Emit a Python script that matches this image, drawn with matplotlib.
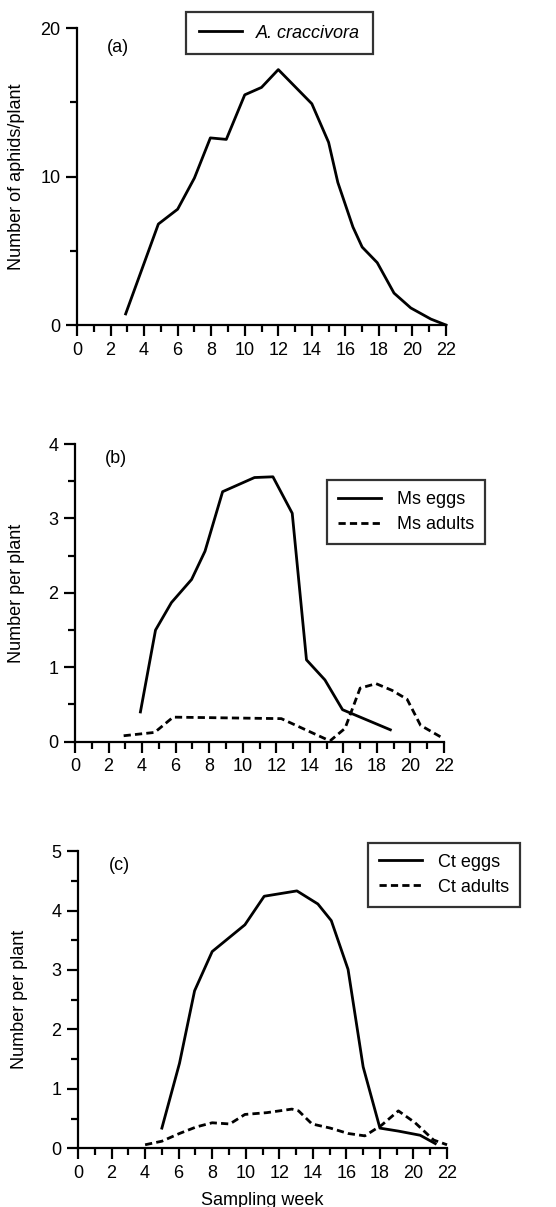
import matplotlib
matplotlib.use('Agg')
import matplotlib.pyplot as plt
from matplotlib.ticker import MultipleLocator

plt.rcParams['font.family'] = ['Liberation Sans', 'DejaVu Sans']
plt.rcParams['font.size'] = 13

# (a) A. craccivora
week_a = [2.9, 4.85, 6.0, 7.0, 7.95, 8.9, 10.0, 11.0, 12.0, 13.0, 14.0, 15.0,
          15.55, 16.45, 17.0, 17.9, 18.9, 19.9, 21.1, 22.0]
aphids = [0.75, 6.8, 7.8, 9.9, 12.6, 12.5, 15.5, 16.0, 17.2, 16.05, 14.9, 12.3,
          9.6, 6.6, 5.25, 4.2, 2.15, 1.15, 0.4, 0.0]

# (b) Ms
week_ms_eggs = [3.9, 4.8, 5.75, 6.95, 7.75, 8.8, 10.7, 11.8, 12.95, 13.8,
                14.9, 15.95, 18.8]
ms_eggs = [0.40, 1.50, 1.87, 2.18, 2.56, 3.36, 3.55, 3.56, 3.07, 1.10,
           0.83, 0.43, 0.16]
week_ms_adults = [2.9, 4.75, 5.85, 12.3, 15.2, 16.1, 17.0, 17.95, 18.9, 19.8,
                  20.6, 21.95]
ms_adults = [0.08, 0.125, 0.33, 0.31, 0.01, 0.18, 0.72, 0.78, 0.69, 0.57,
             0.22, 0.045]

# (c) Ct
week_ct_eggs = [5.0, 6.05, 6.95, 8.0, 9.95, 11.1, 13.05, 14.3, 15.1, 16.1,
                17.0, 18.0, 19.1, 20.4, 21.3]
ct_eggs = [0.34, 1.43, 2.65, 3.31, 3.76, 4.24, 4.33, 4.11, 3.83, 3.01,
           1.37, 0.34, 0.29, 0.22, 0.08]
week_ct_adults = [4.0, 5.0, 6.05, 7.05, 8.0, 9.05, 9.95, 11.25, 12.75, 13.15,
                  13.95, 15.05, 16.1, 17.1, 18.1, 19.1, 20.1, 21.2, 22.0]
ct_adults = [0.06, 0.12, 0.25, 0.36, 0.43, 0.41, 0.57, 0.60, 0.66, 0.63,
             0.41, 0.34, 0.25, 0.21, 0.39, 0.63, 0.43, 0.14, 0.06]

x_ticks = list(range(0, 23, 2))

fig = plt.figure(figsize=(5.56, 12.07), dpi=100)
ax_a = fig.add_axes([0.1385, 0.7307, 0.6637, 0.2461])
ax_b = fig.add_axes([0.1349, 0.3855, 0.6637, 0.2466])
ax_c = fig.add_axes([0.1403, 0.0486, 0.6637, 0.2463])

lw = 2.0
dash = (0, (2.6, 1.5))


def style(ax, ymax, ymajor, yminor):
    ax.set_xlim(0, 22)
    ax.set_ylim(0, ymax)
    ax.spines['top'].set_visible(False)
    ax.spines['right'].set_visible(False)
    ax.spines['left'].set_linewidth(1.6)
    ax.spines['bottom'].set_linewidth(1.6)
    ax.set_xticks(x_ticks)
    ax.xaxis.set_minor_locator(MultipleLocator(1))
    ax.yaxis.set_major_locator(MultipleLocator(ymajor))
    ax.yaxis.set_minor_locator(MultipleLocator(yminor))
    ax.tick_params(which='major', length=8, width=1.6, labelsize=13, pad=4)
    ax.tick_params(which='minor', length=5, width=1.6)


def box(leg):
    leg.get_frame().set_edgecolor('black')
    leg.get_frame().set_linewidth(1.6)


style(ax_a, 20, 10, 5)
ax_a.plot(week_a, aphids, color='black', lw=lw, clip_on=False,
          label='A. craccivora')
ax_a.set_ylabel('Number of aphids/plant', fontsize=13)
ax_a.yaxis.set_label_coords(-0.141, 0.5)
ax_a.text(0.111, 0.936, '(a)', transform=ax_a.transAxes, ha='center',
          va='center', fontsize=13)
box(ax_a.legend(loc='upper left', bbox_to_anchor=(0.295, 1.054),
                frameon=True, fancybox=False, borderpad=0.7,
                handlelength=2.4, handletextpad=0.8, borderaxespad=0,
                prop={'style': 'italic', 'size': 13}))

style(ax_b, 4, 1, 0.5)
ax_b.plot(week_ms_eggs, ms_eggs, color='black', lw=lw, clip_on=False,
          label='Ms eggs')
ax_b.plot(week_ms_adults, ms_adults, color='black', lw=lw, ls=dash,
          clip_on=False, label='Ms adults')
ax_b.set_ylabel('Number per plant', fontsize=13)
ax_b.yaxis.set_label_coords(-0.135, 0.5)
ax_b.text(0.111, 0.953, '(b)', transform=ax_b.transAxes, ha='center',
          va='center', fontsize=13)
box(ax_b.legend(loc='upper left', bbox_to_anchor=(0.683, 0.879),
                frameon=True, fancybox=False, borderpad=0.6,
                handlelength=2.4, handletextpad=0.85, labelspacing=0.45,
                fontsize=13, borderaxespad=0))

style(ax_c, 5, 1, 0.5)
ax_c.plot(week_ct_eggs, ct_eggs, color='black', lw=lw, clip_on=False,
          label='Ct eggs')
ax_c.plot(week_ct_adults, ct_adults, color='black', lw=lw, ls=dash,
          clip_on=False, label='Ct adults')
ax_c.set_ylabel('Number per plant', fontsize=13)
ax_c.yaxis.set_label_coords(-0.135, 0.5)
ax_c.set_xlabel('Sampling week', fontsize=13, va='center')
ax_c.xaxis.set_label_coords(0.5, -0.175)
ax_c.text(0.111, 0.953, '(c)', transform=ax_c.transAxes, ha='center',
          va='center', fontsize=13)
box(ax_c.legend(loc='upper left', bbox_to_anchor=(0.786, 1.028),
                frameon=True, fancybox=False, borderpad=0.6,
                handlelength=2.4, handletextpad=0.85, labelspacing=0.45,
                fontsize=13, borderaxespad=0))

fig.savefig('out.png', dpi=100)
